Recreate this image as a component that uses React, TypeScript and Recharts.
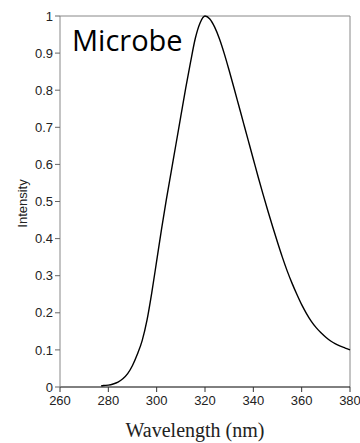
import React from 'react';
import { LineChart, Line, XAxis, YAxis, ReferenceLine, Label } from 'recharts';

const wavelengths = [
  277, 278, 280, 282, 284, 286, 288, 290, 292, 294, 296, 298, 300, 302, 304, 306, 308, 310,
  312, 314, 316, 318, 320, 322, 324, 326, 328, 330, 332, 334, 336, 338, 340, 342, 344, 346,
  348, 350, 352, 354, 356, 358, 360, 362, 364, 366, 368, 370, 372, 374, 376, 378, 380,
];
const intensities = [
  0.003, 0.004, 0.005, 0.008, 0.013, 0.022, 0.036, 0.058, 0.088, 0.125, 0.18, 0.255, 0.34,
  0.425, 0.505, 0.58, 0.655, 0.73, 0.805, 0.875, 0.94, 0.982, 1.0, 0.992, 0.97, 0.938, 0.898,
  0.853, 0.806, 0.758, 0.71, 0.662, 0.614, 0.566, 0.52, 0.475, 0.432, 0.39, 0.35, 0.313,
  0.28, 0.25, 0.222, 0.198, 0.177, 0.16, 0.146, 0.134, 0.124, 0.116, 0.11, 0.105, 0.1,
];
const xTicks = [260, 280, 300, 320, 340, 360, 380];
const yTicks = [0, 0.1, 0.2, 0.3, 0.4, 0.5, 0.6, 0.7, 0.8, 0.9, 1];
const title = 'Microbe';
const xLabel = 'Wavelength (nm)';
const yLabel = 'Intensity';

const data = wavelengths.map((w, i) => ({ w, v: intensities[i] }));

const sans = '"Liberation Sans", Arial, sans-serif';

export default function App() {
  return (
    <div style={{ position: 'absolute', left: 0, top: 0, width: 360, height: 443, background: '#fff' }}>
      <LineChart
        width={360}
        height={443}
        data={data}
        margin={{ top: 16, right: 10, left: 0, bottom: 0 }}
      >
        <XAxis
          dataKey="w"
          type="number"
          domain={[260, 380]}
          ticks={xTicks}
          interval={0}
          height={56}
          stroke="#000"
          tickSize={5}
          tickMargin={4}
          tick={{ fill: '#222', fontSize: 13, fontFamily: sans }}
          tickLine={{ stroke: '#333' }}
        >
          <Label
            value={xLabel}
            position="insideBottom"
            offset={6}
            dx={-10}
            style={{ fontFamily: '"Liberation Serif", "Times New Roman", serif', fontSize: 20, fill: '#222' }}
          />
        </XAxis>
        <YAxis
          type="number"
          domain={[0, 1]}
          ticks={yTicks}
          interval={0}
          width={60}
          stroke="#888"
          tickSize={5}
          tickMargin={2}
          tick={{ fill: '#222', fontSize: 13, fontFamily: sans }}
          tickLine={{ stroke: '#666' }}
        >
          <Label
            value={yLabel}
            angle={-90}
            position="center"
            dx={-8}
            dy={2}
            style={{ fontFamily: sans, fontSize: 13, fill: '#222' }}
          />
        </YAxis>
        <ReferenceLine y={1} stroke="#888" />
        <ReferenceLine x={380} stroke="#888" />
        <Line
          type="monotone"
          dataKey="v"
          stroke="#000"
          strokeWidth={1.4}
          dot={false}
          isAnimationActive={false}
        />
      </LineChart>
      <div
        style={{
          position: 'absolute',
          left: 72,
          top: 20,
          fontFamily: '"Open Sans", sans-serif',
          fontSize: 29,
          lineHeight: '40px',
          color: '#000',
        }}
      >
        {title}
      </div>
    </div>
  );
}
